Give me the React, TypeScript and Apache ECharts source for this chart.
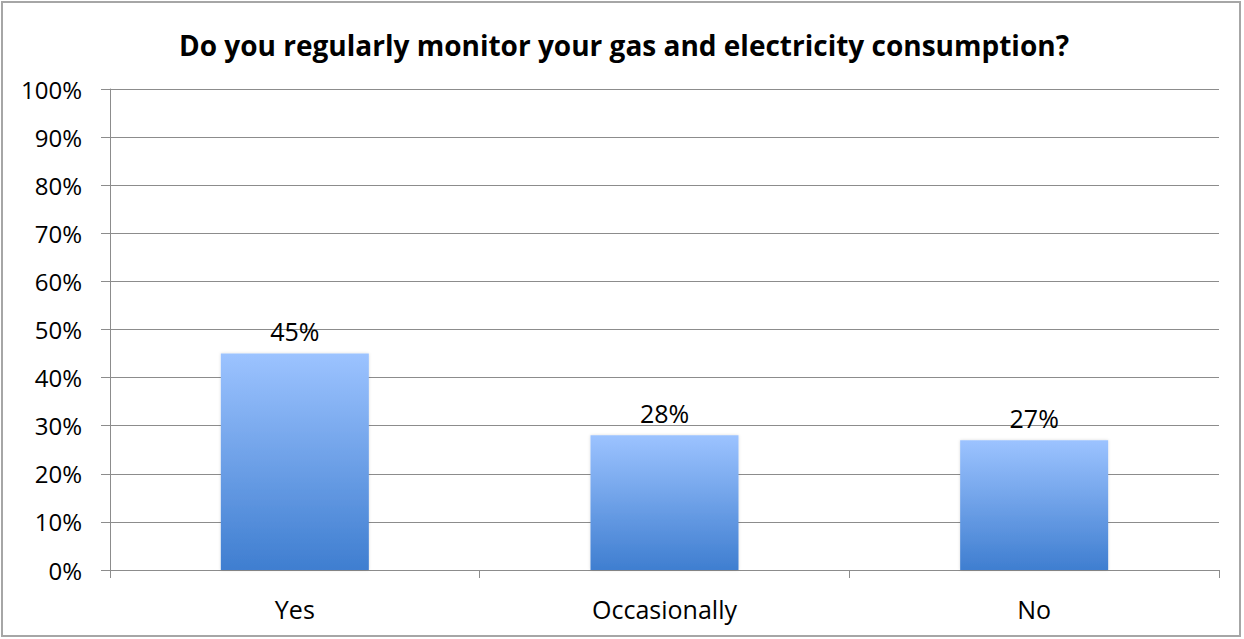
import React, { useEffect, useRef } from "react";
import * as echarts from "echarts";

const categories = ["Yes", "Occasionally", "No"];
const values = [45, 28, 27];
const yTicks = [0, 10, 20, 30, 40, 50, 60, 70, 80, 90, 100];

export default function App() {
  const ref = useRef<HTMLDivElement>(null);
  useEffect(() => {
    const chart = echarts.init(ref.current!, null, { renderer: "svg" });
    chart.setOption({
      animation: false,
      backgroundColor: "#ffffff",
      title: {
        text: "Do you regularly monitor your gas and electricity consumption?",
        left: 619,
        textAlign: "center",
        top: 26,
        textStyle: { fontFamily: "Open Sans", fontWeight: "bold", fontSize: 28, color: "#000" },
      },
      graphic: [
        {
          type: "rect",
          shape: { x: 2, y: 2, width: 1238, height: 634 },
          style: { fill: "none", stroke: "#a6a6a6", lineWidth: 2 },
          silent: true,
        },
      ],
      grid: { left: 110, right: 25, top: 89, bottom: 69 },
      xAxis: {
        type: "category",
        data: categories,
        axisLine: { lineStyle: { color: "#8c8c8c", width: 1 } },
        axisTick: { show: true, length: 8, lineStyle: { color: "#8c8c8c" } },
        axisLabel: { fontFamily: "Open Sans", fontSize: 25, color: "#000", margin: 26 },
      },
      yAxis: {
        type: "value",
        min: 0,
        max: 100,
        interval: 10,
        axisLine: { show: true, lineStyle: { color: "#8c8c8c" } },
        axisTick: { show: true, length: 9, lineStyle: { color: "#8c8c8c" } },
        splitLine: { lineStyle: { color: "#8c8c8c", width: 1 } },
        axisLabel: {
          fontFamily: "Open Sans",
          fontSize: 24,
          color: "#000",
          margin: 28,
          formatter: (v: number) => (yTicks.includes(v) ? v + "%" : ""),
        },
      },
      series: [
        {
          type: "bar",
          data: values,
          barWidth: 148,
          itemStyle: {
            color: new echarts.graphic.LinearGradient(0, 0, 0, 1, [
              { offset: 0, color: "#9cc3ff" },
              { offset: 1, color: "#3f7ed0" },
            ]),
            shadowColor: "rgba(0,0,0,0.15)",
            shadowBlur: 3,
          },
          label: {
            show: true,
            position: "top",
            formatter: "{c}%",
            fontFamily: "Open Sans",
            fontSize: 25,
            color: "#000",
            distance: 10,
          },
        },
      ],
    });
    return () => chart.dispose();
  }, []);
  return (
    <div
      ref={ref}
      style={{ width: 1244, height: 639, position: "absolute", left: 0, top: 0 }}
    />
  );
}
